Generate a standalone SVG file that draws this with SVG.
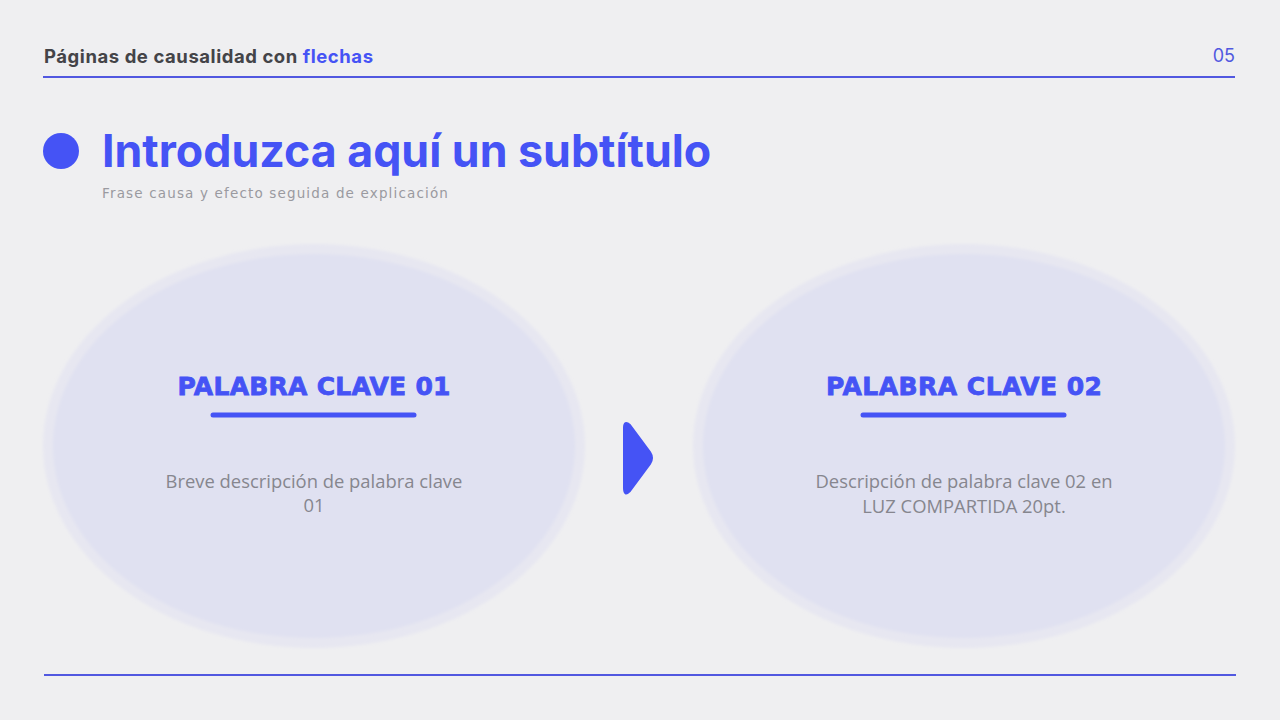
<svg xmlns="http://www.w3.org/2000/svg" width="1280" height="720" viewBox="0 0 1280 720">
<defs>
<style>
.hdr{font-family:Inter,"Noto Sans",sans-serif;font-weight:700;font-size:18.5px;fill:#444448}
.blue{fill:#4553F5}
.title{font-family:Inter,"Noto Sans",sans-serif;font-weight:700;font-size:44.7px;fill:#4553F5}
.sub{font-family:"DejaVu Sans",sans-serif;font-size:13.5px;fill:#9a9aa0;letter-spacing:1.1px}
.kw{font-family:"DejaVu Sans",sans-serif;font-weight:700;font-size:25px;fill:#4553F5;stroke:#4553F5;stroke-width:0.8}
.desc{font-family:"Open Sans","Noto Sans",sans-serif;font-size:18.4px;fill:#86868e}
.ul{stroke:#4553F5;stroke-width:5;stroke-linecap:round}
.outer{fill:#E7E7F1}
.inner{fill:#E0E1F1}
</style>
<filter id="blur" x="-10%" y="-10%" width="120%" height="120%"><feGaussianBlur stdDeviation="1.5"/></filter>
</defs>
<rect width="1280" height="720" fill="#EFEFF1"/>
<g id="header">
<text x="44" y="63" class="hdr" textLength="329">Páginas de causalidad con <tspan class="blue">flechas</tspan></text>
<text x="1235" y="62" text-anchor="end" font-family="Inter,'Noto Sans',sans-serif" font-size="18" fill="#5158E0">05</text>
<line x1="43" y1="77" x2="1235" y2="77" stroke="#5158E0" stroke-width="2"/>
</g>
<g id="title">
<circle cx="61" cy="151" r="18" fill="#4553F5"/>
<text x="102" y="167" class="title">Introduzca aquí un subtítulo</text>
<text x="102" y="198" class="sub" textLength="347">Frase causa y efecto seguida de explicación</text>
</g>
<g id="node1">
<ellipse cx="314" cy="446" rx="271" ry="202" class="outer" filter="url(#blur)"/>
<ellipse cx="314" cy="446" rx="261" ry="192" class="inner" filter="url(#blur)"/>
<text x="314" y="395" text-anchor="middle" class="kw" textLength="273">PALABRA CLAVE 01</text>
<line x1="213" y1="415" x2="414" y2="415" class="ul"/>
<text x="314" y="488" text-anchor="middle" class="desc">Breve descripción de palabra clave</text>
<text x="314" y="512" text-anchor="middle" class="desc">01</text>
</g>
<g id="node2">
<ellipse cx="964" cy="446" rx="271" ry="202" class="outer" filter="url(#blur)"/>
<ellipse cx="964" cy="446" rx="261" ry="192" class="inner" filter="url(#blur)"/>
<text x="964" y="395" text-anchor="middle" class="kw" textLength="276">PALABRA CLAVE 02</text>
<line x1="863" y1="415" x2="1064" y2="415" class="ul"/>
<text x="964" y="488" text-anchor="middle" class="desc">Descripción de palabra clave 02 en</text>
<text x="964" y="513" text-anchor="middle" class="desc">LUZ COMPARTIDA 20pt.</text>
</g>
<g id="connectors">
<path d="M624 428 Q624 420 630 425 L650 452 Q654 458 650 464 L630 491 Q624 497 624 488 Z" fill="#4553F5" stroke="#4553F5" stroke-width="2" stroke-linejoin="round"/>
</g>
<g id="footer">
<line x1="44" y1="675" x2="1236" y2="675" stroke="#5158E0" stroke-width="2"/>
</g>
</svg>
